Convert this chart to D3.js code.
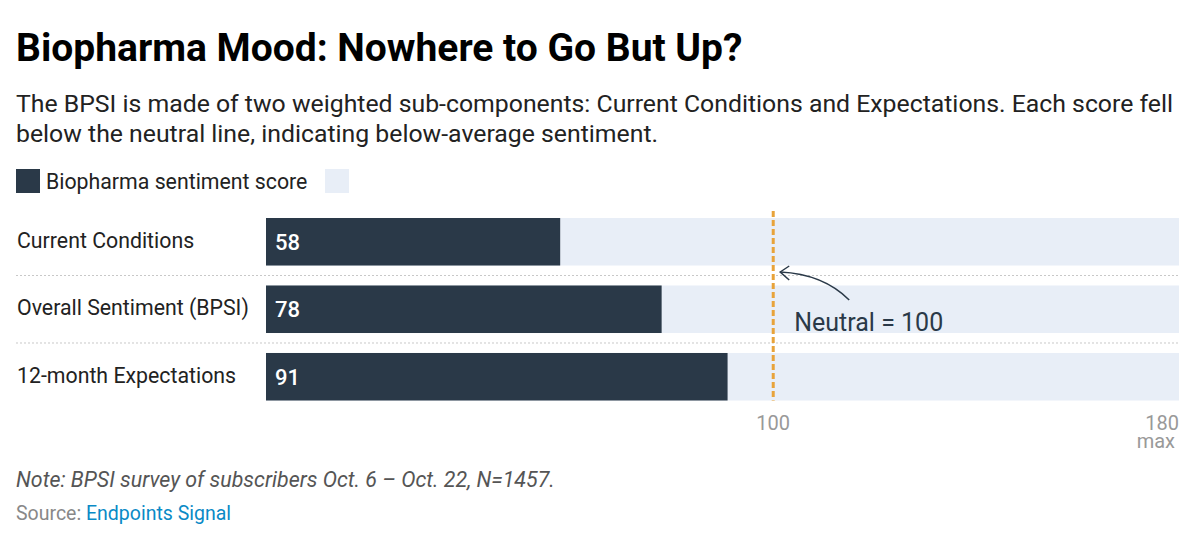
<!DOCTYPE html>
<html>
<head>
<meta charset="utf-8">
<script src="https://cdn.jsdelivr.net/npm/d3@7"></script>
<style>
  body { margin: 0; background: #fff; }
  svg { display: block; font-family: Roboto, "Noto Sans", sans-serif; }
</style>
</head>
<body>
<svg id="chart" width="1200" height="558"></svg>
<script>
// data
var categories = ["Current Conditions", "Overall Sentiment (BPSI)", "12-month Expectations"];
var scores = [58, 78, 91];
var maxScore = 180;
var neutral = 100;
var tickLabels = ["100", "180"];

var svg = d3.select("#chart");

var left = 266, right = 1179;
var x = d3.scaleLinear().domain([0, maxScore]).range([left, right]);
var y = d3.scaleBand().domain(categories).range([218, 400.5]).paddingInner(0.296).paddingOuter(0);

// title + subtitle
svg.append("text")
	.attr("x", 16).attr("y", 61)
	.attr("font-size", 39).attr("font-weight", 700).attr("fill", "#000")
	.text("Biopharma Mood: Nowhere to Go But Up?");

var sub = ["The BPSI is made of two weighted sub-components: Current Conditions and Expectations. Each score fell",
	"below the neutral line, indicating below-average sentiment."];
svg.selectAll(".sub").data(sub).enter().append("text")
	.attr("x", 16).attr("y", function(d, i){ return 112 + i * 30; })
	.attr("font-size", 24.8).attr("fill", "#222")
	.text(function(d){ return d; });

// legend
svg.append("rect").attr("x", 16).attr("y", 169).attr("width", 24).attr("height", 24).attr("fill", "#2a3948");
svg.append("text").attr("x", 46).attr("y", 189).attr("font-size", 21.3).attr("fill", "#222").text("Biopharma sentiment score");
svg.append("rect").attr("x", 325).attr("y", 169).attr("width", 24).attr("height", 24).attr("fill", "#e8eef7");

// background bars (max)
svg.selectAll(".bg").data(categories).enter().append("rect")
	.attr("x", x(0)).attr("y", function(d){ return y(d); })
	.attr("width", x(maxScore) - x(0)).attr("height", y.bandwidth())
	.attr("fill", "#e8eef7");

// separators
svg.selectAll(".sep").data(categories.slice(1)).enter().append("line")
	.attr("x1", 16).attr("x2", right)
	.attr("y1", function(d){ return y(d) - y.step() * y.paddingInner() / 2; })
	.attr("y2", function(d){ return y(d) - y.step() * y.paddingInner() / 2; })
	.attr("stroke", "#c8c8c8").attr("stroke-width", 1).attr("stroke-dasharray", "2,2");

// value bars
svg.selectAll(".bar").data(scores).enter().append("rect")
	.attr("x", x(0)).attr("y", function(d, i){ return y(categories[i]); })
	.attr("width", function(d){ return x(d) - x(0); }).attr("height", y.bandwidth())
	.attr("fill", "#2a3948");

svg.selectAll(".val").data(scores).enter().append("text")
	.attr("x", x(0) + 9).attr("y", function(d, i){ return y(categories[i]) + y.bandwidth() / 2 + 8; })
	.attr("font-size", 22).attr("font-weight", 500).attr("fill", "#fff")
	.text(function(d){ return d; });

// category labels
svg.selectAll(".cat").data(categories).enter().append("text")
	.attr("x", 17).attr("y", function(d){ return y(d) + y.bandwidth() / 2 + 6; })
	.attr("font-size", 21.3).attr("fill", "#222")
	.text(function(d){ return d; });

// neutral line
svg.append("line")
	.attr("x1", x(neutral)).attr("x2", x(neutral))
	.attr("y1", 211).attr("y2", y(categories[2]) + y.bandwidth())
	.attr("stroke", "#e8a33a").attr("stroke-width", 3).attr("stroke-dasharray", "6,3");

// annotation
var ax = x(neutral);
svg.append("path")
	.attr("d", "M" + (ax + 76) + ",300 Q" + (ax + 50) + ",274 " + (ax + 7) + ",272")
	.attr("fill", "none").attr("stroke", "#2a3948").attr("stroke-width", 1.5);
svg.append("path")
	.attr("d", "M" + (ax + 16) + ",266 L" + (ax + 7) + ",272 L" + (ax + 16) + ",280")
	.attr("fill", "none").attr("stroke", "#2a3948").attr("stroke-width", 1.5);
svg.append("text").attr("x", ax + 21).attr("y", 331)
	.attr("font-size", 25).attr("fill", "#2a3948").text("Neutral = " + neutral);

// axis labels
svg.append("text").attr("x", x(neutral)).attr("y", 430).attr("text-anchor", "middle")
	.attr("font-size", 20).attr("fill", "#999").text(tickLabels[0]);
svg.append("text").attr("x", x(maxScore)).attr("y", 430).attr("text-anchor", "end")
	.attr("font-size", 20).attr("fill", "#999").text(tickLabels[1]);
svg.append("text").attr("x", x(maxScore) - 4).attr("y", 448).attr("text-anchor", "end")
	.attr("font-size", 20).attr("fill", "#999").text("max");

// notes
svg.append("text").attr("x", 16).attr("y", 487)
	.attr("font-size", 21.4).attr("font-style", "italic").attr("fill", "#555")
	.text("Note: BPSI survey of subscribers Oct. 6 \u2013 Oct. 22, N=1457.");
var src = svg.append("text").attr("x", 16).attr("y", 520).attr("font-size", 19.5);
src.append("tspan").attr("fill", "#888").text("Source: ");
src.append("tspan").attr("fill", "#0a8ac6").text("Endpoints Signal");
</script>
</body>
</html>
